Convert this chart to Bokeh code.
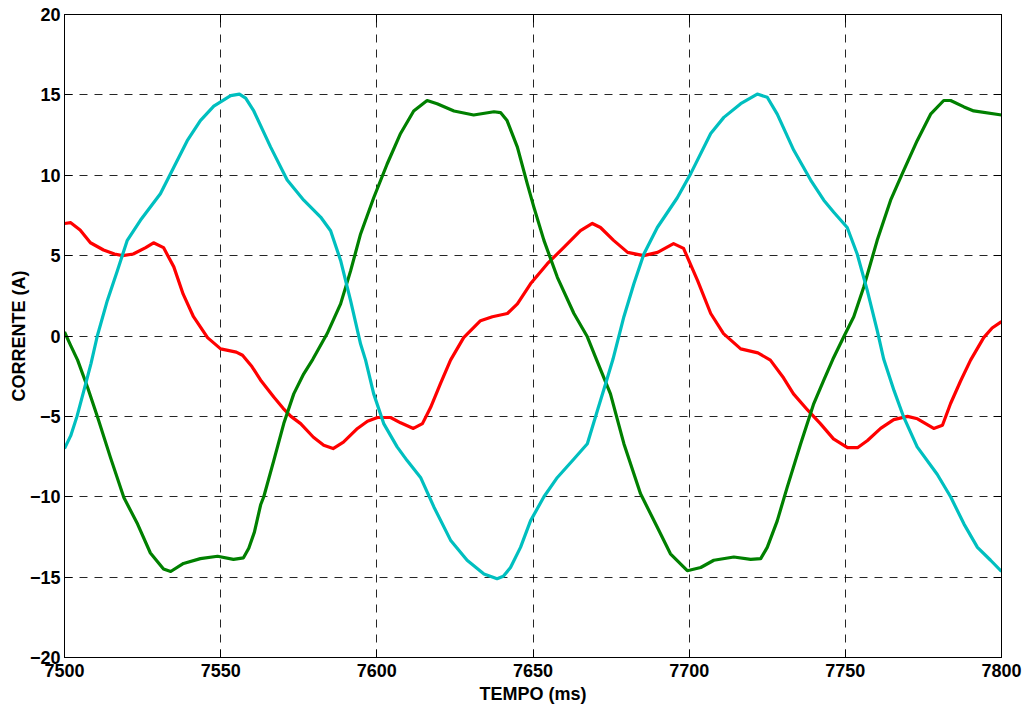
from bokeh.plotting import figure
from bokeh.models import FixedTicker, LinearAxis, Range1d
from bokeh.embed import file_html
from bokeh.resources import INLINE

x_ticks = [7500, 7550, 7600, 7650, 7700, 7750, 7800]
y_ticks = [-20, -15, -10, -5, 0, 5, 10, 15, 20]

red_t = [7500, 7502, 7505, 7508.3, 7512.5, 7516, 7518.6, 7522, 7526, 7528.5, 7531.7, 7535, 7538,
         7541.3, 7545.8, 7550, 7555, 7557, 7560, 7563, 7567, 7570, 7572.5, 7575.6, 7579.7, 7583,
         7586, 7589.3, 7593.8, 7597, 7600.2, 7604.4, 7607.6, 7611.7, 7614.6, 7617.2, 7620.4,
         7623.6, 7627.8, 7633.2, 7637, 7641.8, 7645, 7649.2, 7654.6, 7659.8, 7665.2, 7669, 7671.6,
         7675.8, 7680.3, 7685.4, 7689.9, 7695, 7698.2, 7702.7, 7706.9, 7711, 7716.5, 7722, 7726,
         7730.2, 7733.4, 7737.9, 7742, 7746.2, 7750.7, 7753.9, 7757.1, 7761.3, 7765.5, 7769.9,
         7773.1, 7778.3, 7781.1, 7783.7, 7786.9, 7790.1, 7794.3, 7797, 7800]
red_i = [7.0, 7.05, 6.6, 5.8, 5.35, 5.1, 5.0, 5.1, 5.5, 5.8, 5.5, 4.3, 2.6,
         1.2, -0.1, -0.8, -1.0, -1.2, -1.9, -2.8, -3.8, -4.5, -5.0, -5.45, -6.3, -6.8,
         -7.0, -6.6, -5.75, -5.3, -5.07, -5.07, -5.4, -5.75, -5.45, -4.45, -2.95,
         -1.5, -0.1, 0.95, 1.2, 1.4, 2.0, 3.25, 4.5, 5.5, 6.55, 7.0, 6.75,
         5.95, 5.2, 5.0, 5.2, 5.75, 5.45, 3.45, 1.4, 0.15, -0.8, -1.05, -1.5,
         -2.6, -3.6, -4.6, -5.45, -6.4, -6.95, -6.95, -6.5, -5.75, -5.2, -5.0,
         -5.15, -5.75, -5.55, -4.2, -2.8, -1.5, -0.1, 0.5, 0.9]

green_t = [7500, 7502, 7504.2, 7507.4, 7510.6, 7514.7, 7519, 7523.4, 7527.5, 7531.7, 7534, 7538.1,
           7543.5, 7549, 7554.1, 7557.3, 7559, 7560.8, 7562.8, 7563.8, 7567, 7570.2, 7573.4,
           7576.6, 7579.5, 7584.1, 7588.4, 7591.6, 7594.8, 7599, 7603.3, 7607.6, 7611.8, 7616.1,
           7619.3, 7624.7, 7631, 7637.5, 7639.6, 7641.7, 7645, 7648.2, 7650.3, 7653.5, 7657.8,
           7663.1, 7667.4, 7670.3, 7674.8, 7679.1, 7684.4, 7689.8, 7694, 7699.4, 7703.7, 7707.9,
           7714.3, 7719.7, 7722.9, 7725, 7728.2, 7731.4, 7735.7, 7739.9, 7743.1, 7746, 7749.5,
           7752.7, 7755.9, 7760.2, 7764.5, 7768.7, 7773, 7777.3, 7781.5, 7783.7, 7788, 7791.1, 7800]
green_i = [0.25, -0.6, -1.5, -3.2, -5.05, -7.55, -10.05, -11.7, -13.5, -14.5, -14.65, -14.15,
           -13.85, -13.7, -13.9, -13.8, -13.2, -12.2, -10.5, -10.0, -7.75, -5.45, -3.6,
           -2.35, -1.45, 0.15, 2.0, 4.05, 6.35, 8.6, 10.7, 12.6, 14.0, 14.65,
           14.45, 14.0, 13.75, 13.95, 13.9, 13.4, 11.75, 9.45, 8.0, 5.95, 3.65,
           1.4, -0.05, -1.45, -3.6, -6.7, -9.8, -11.9, -13.55, -14.6, -14.4, -13.95,
           -13.75, -13.9, -13.85, -13.15, -11.5, -9.4, -6.7, -4.2, -2.75, -1.45, -0.05,
           1.2, 3.05, 5.95, 8.45, 10.3, 12.15, 13.8, 14.65, 14.65, 14.25, 14.0, 13.75]

cyan_t = [7500, 7502, 7504, 7506.2, 7508.5, 7510.5, 7513.7, 7516.9, 7520.1, 7524.3, 7530.7, 7535,
          7539.3, 7543.5, 7547.8, 7553.2, 7556, 7558, 7560.6, 7566, 7571.3, 7576.6, 7582, 7585.2,
          7588.4, 7591.6, 7594.8, 7596.4, 7599, 7602.2, 7606.5, 7609.7, 7614, 7618.3, 7623.6,
          7628.9, 7634.3, 7638.5, 7640.5, 7642.8, 7646, 7649.2, 7653.5, 7657.8, 7663.1, 7667.4,
          7670.6, 7673.2, 7675.6, 7679.1, 7682.3, 7685.5, 7689.8, 7696.2, 7700.5, 7706.9, 7711.1,
          7716.5, 7721.8, 7725, 7728.2, 7733.5, 7738.9, 7743.1, 7746.3, 7750.6, 7753.8, 7757,
          7760.2, 7762.3, 7765.6, 7768.7, 7773, 7779.4, 7783.7, 7788, 7792.3, 7796.5, 7800]
cyan_i = [-7.0, -6.2, -5.0, -3.4, -1.7, 0.0, 2.2, 4.05, 5.95, 7.2, 8.85, 10.5,
          12.15, 13.4, 14.3, 14.95, 15.05, 14.8, 14.0, 11.75, 9.7, 8.45, 7.4, 6.55,
          4.7, 2.2, -0.5, -1.5, -3.6, -5.45, -6.9, -7.75, -8.8, -10.65, -12.7,
          -13.95, -14.8, -15.1, -14.95, -14.4, -13.15, -11.5, -10.0, -8.8, -7.65, -6.7,
          -4.65, -3.0, -1.45, 1.2, 3.25, 5.1, 6.75, 8.6, 10.1, 12.6, 13.6,
          14.45, 15.05, 14.85, 13.8, 11.55, 9.7, 8.45, 7.7, 6.75, 5.1, 2.85,
          0.35, -1.45, -3.4, -5.05, -6.9, -8.6, -10.0, -11.7, -13.15, -13.95, -14.65]

FONT = "Liberation Sans"

p = figure(width=1029, height=708, x_range=Range1d(7500, 7800), y_range=Range1d(-20, 20),
           output_backend="svg", toolbar_location=None,
           min_border_left=64, min_border_right=28, min_border_top=14, min_border_bottom=51)
p.background_fill_color = "white"
p.border_fill_color = "white"
p.outline_line_color = "black"
p.outline_line_width = 1

p.xaxis.ticker = FixedTicker(ticks=x_ticks)
p.yaxis.ticker = FixedTicker(ticks=y_ticks)
for ax in (p.xaxis[0], p.yaxis[0]):
    ax.major_tick_in = 8
    ax.major_tick_out = 0
    ax.minor_tick_line_color = None
    ax.axis_line_color = "black"
    ax.major_tick_line_color = "black"
    ax.major_label_text_font = FONT
    ax.major_label_text_font_style = "bold"
    ax.major_label_text_font_size = "18px"
    ax.major_label_text_color = "black"
    ax.axis_label_text_font = FONT
    ax.axis_label_text_font_style = "bold"
    ax.axis_label_text_font_size = "18px"
    ax.axis_label_text_color = "black"

p.xaxis.axis_label = "TEMPO (ms)"
p.yaxis.axis_label = "CORRENTE (A)"
p.xaxis.major_label_standoff = 6
p.xaxis.axis_label_standoff = 4
p.yaxis.major_label_standoff = 4
p.yaxis.axis_label_standoff = -2

# mirrored ticks on top and right (labels not drawn)
top_ax = LinearAxis(ticker=FixedTicker(ticks=x_ticks), major_tick_in=8, major_tick_out=0,
                    minor_tick_line_color=None, major_label_text_font_size="1px",
                    major_label_text_color=None, major_label_standoff=0)
right_ax = LinearAxis(ticker=FixedTicker(ticks=y_ticks), major_tick_in=8, major_tick_out=0,
                      minor_tick_line_color=None, major_label_text_font_size="1px",
                      major_label_text_color=None, major_label_standoff=0)
p.add_layout(top_ax, "above")
p.add_layout(right_ax, "right")

p.xgrid.ticker = FixedTicker(ticks=x_ticks)
p.ygrid.ticker = FixedTicker(ticks=y_ticks)
for g in (p.xgrid[0], p.ygrid[0]):
    g.grid_line_color = "black"
    g.grid_line_alpha = 0.85
    g.grid_line_dash = "8 7"
    g.grid_line_width = 1

p.line(red_t, red_i, line_color="#ff0000", line_width=3.2, line_join="round")
p.line(green_t, green_i, line_color="#008000", line_width=3.2, line_join="round")
p.line(cyan_t, cyan_i, line_color="#00bfbf", line_width=3.2, line_join="round")

open("out.html", "w").write(file_html(p, INLINE))
